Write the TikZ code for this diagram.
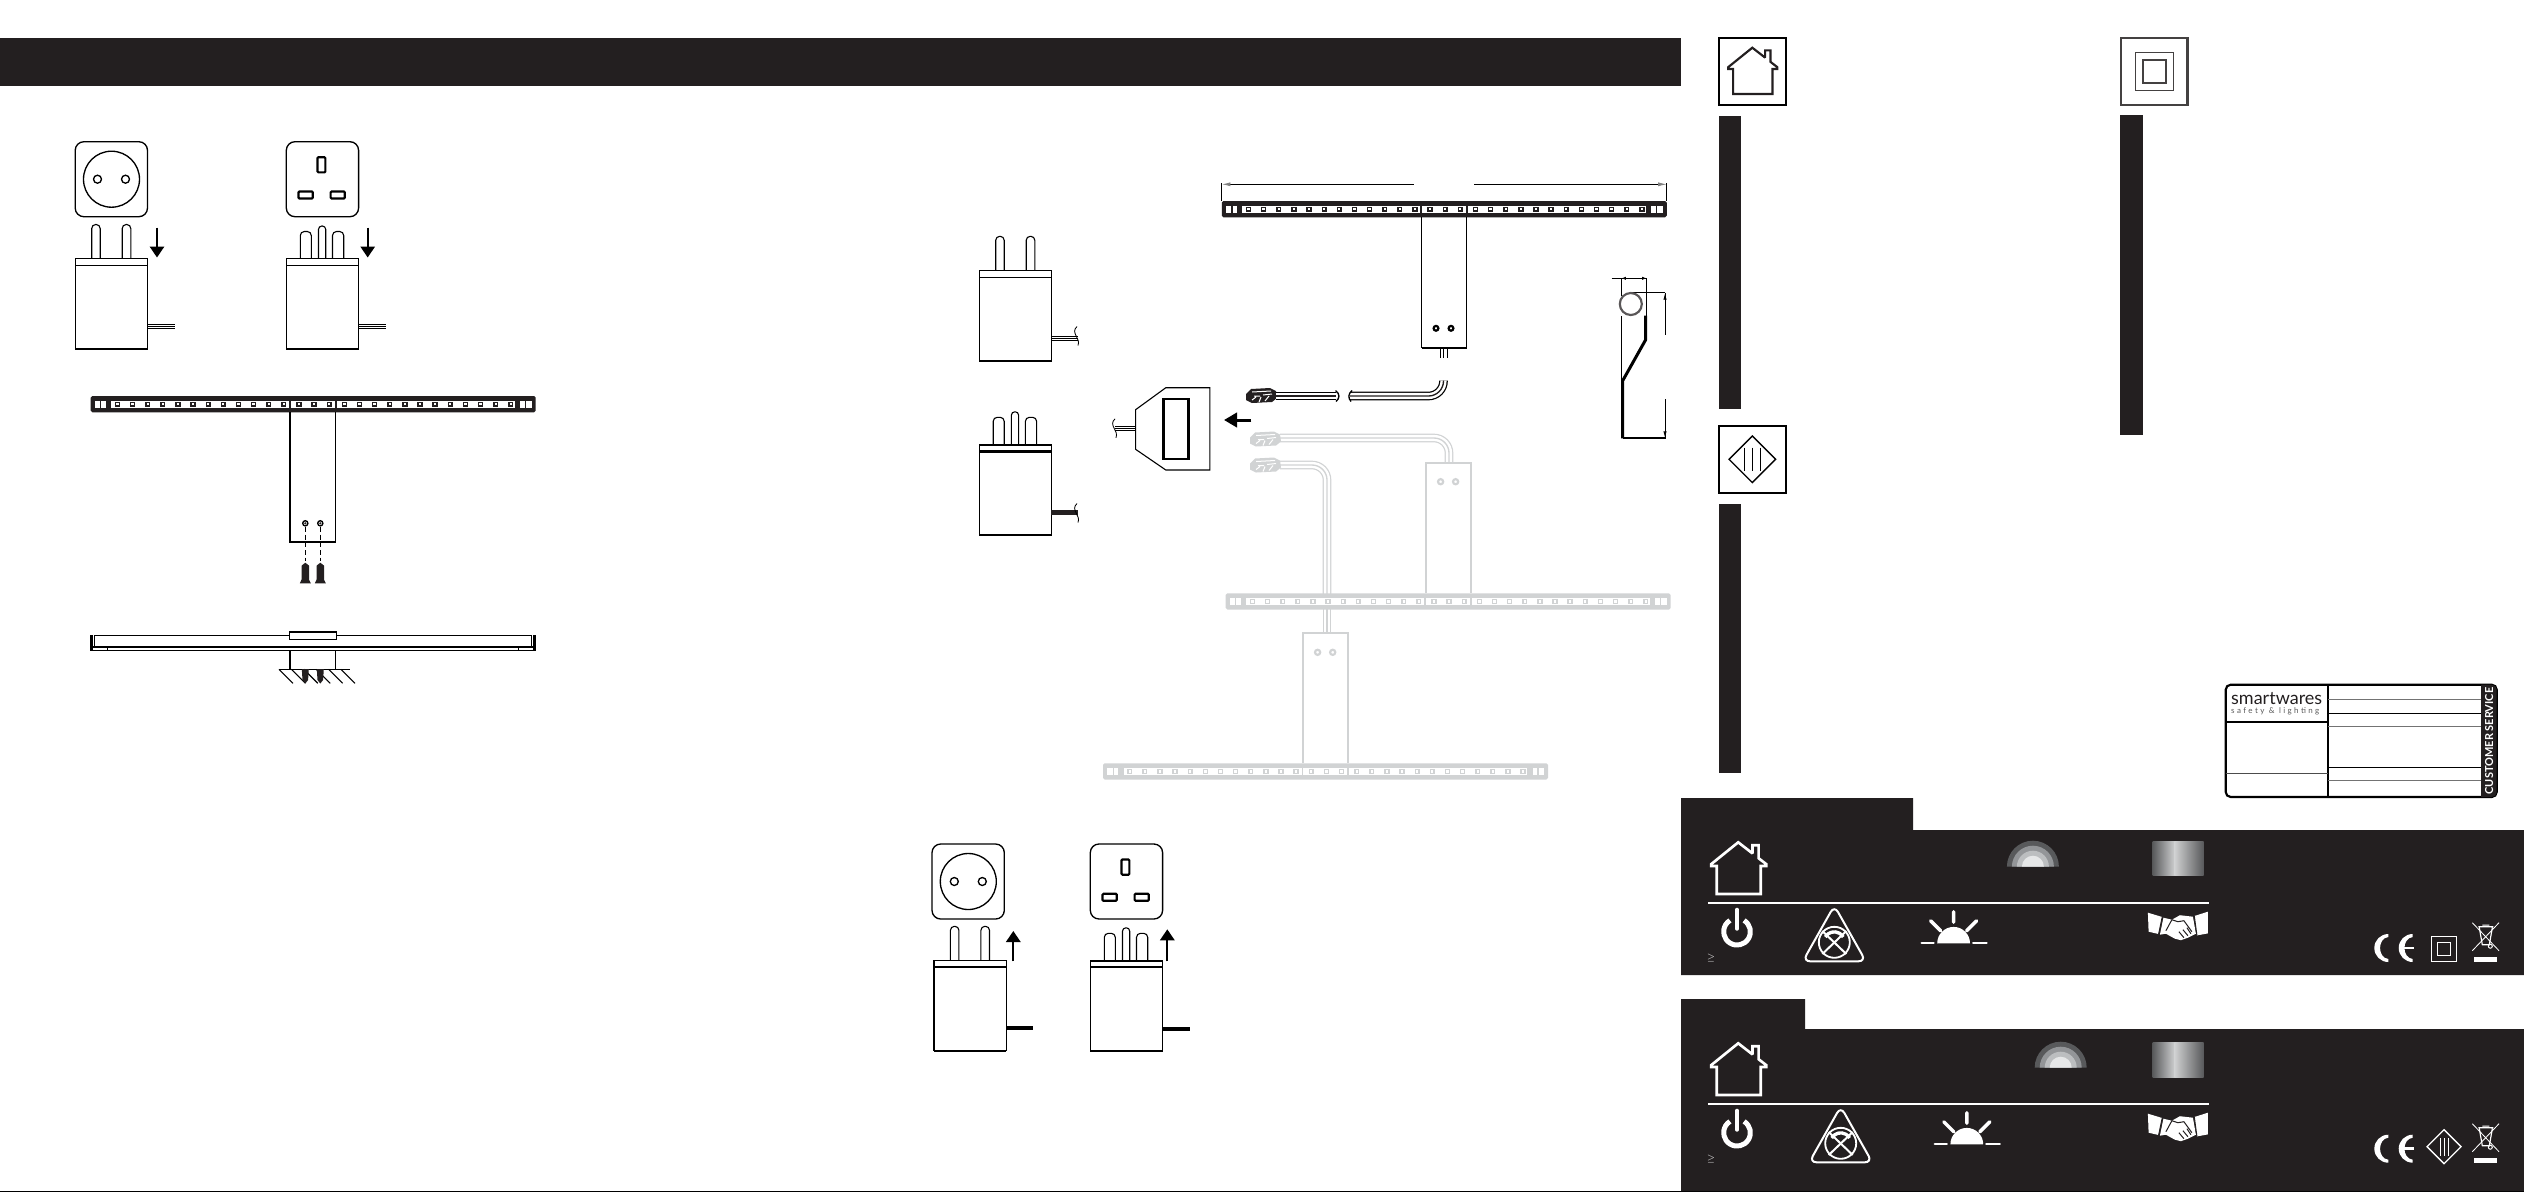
\documentclass[tikz,border=0pt]{standalone}
\usepackage{fontspec}
\setmainfont{Lato}
\newfontfamily\tagfont[LetterSpace=30]{Lato}
\usetikzlibrary{arrows.meta}
\definecolor{ink}{HTML}{231F20}
\definecolor{pale}{HTML}{D1D3D4}
\definecolor{HTML58}{HTML}{58595B}
\definecolor{HTML93}{HTML}{939598}
\definecolor{HTMLBC}{HTML}{BCBEC0}
\definecolor{HTMLE6}{HTML}{E6E7E8}

\tikzset{
pics/lampbar/.style={code={
    \fill[#1,rounded corners=.5pt] (0,0) rectangle (445,16.3);
    \fill[white] (3.8,4.5) rectangle (9.5,12);
    \fill[white] (10.7,4.5) rectangle (15.4,12);
    \fill[white] (20.6,4.5) rectangle (424.3,12);
    \fill[white] (429.6,4.5) rectangle (434.3,12);
    \fill[white] (435.5,4.5) rectangle (441.2,12);
    \fill[#1] (198.6,3) rectangle (200.4,13);
    \fill[#1] (244.3,3) rectangle (246.1,13);
    \foreach \i in {0,...,26}
        \draw[#1,line width=.45pt,fill=white] ({24.8+15.13*\i},6.4) rectangle +(3.8,3.8);
}},
pics/rjplug/.style={code={
    \fill[#1] (0,6) -- (5,1) -- (24,0) -- (30,3) -- (31,10) -- (26,14) -- (6,15) -- (0,12) -- cycle;
    \draw[white,line width=.3pt] (6,4) -- (25,3) (8,8) -- (14,8) (17,7) -- (26,6) (6,12) -- (10,9) (19,13) -- (23,8) (13,14) -- (15,9);
}},
pics/socketround/.style={code={
    \draw[fine,rounded corners=2.6pt] (0,0) rectangle (72.3,75);
    \draw[fine] (36.3,37.5) circle (28);
    \draw[fine] (22.3,37.5) circle (4);
    \draw[fine] (50.3,37.5) circle (4);
}},
pics/socketuk/.style={code={
    \draw[fine,rounded corners=2.6pt] (0,0) rectangle (72.3,75);
    \draw[mid,rounded corners=.3pt] (31.2,15.5) rectangle (39.1,30.7);
    \draw[mid,rounded corners=.3pt] (12.2,49.8) rectangle (26.5,56.8);
    \draw[mid,rounded corners=.3pt] (44.3,49.8) rectangle (58.5,56.8);
}},
pics/pinblock/.style={code={
    \draw[fine] (0,0) rectangle (72.3,90.5);
    \draw[mid] (0,90.5) -- (72.3,90.5);
    \draw[fine] (0,7) -- (72.3,7);
}},
pics/plugtwo/.style={code={
    \pic {pinblock};
    \draw[lean,rounded corners=1.2pt] (16.5,0) -- (16.5,-34) -- (25,-34) -- (25,0);
    \draw[lean,rounded corners=1.2pt] (47,0) -- (47,-34) -- (55.6,-34) -- (55.6,0);
}},
pics/plugthree/.style={code={
    \pic {pinblock};
    \draw[lean,rounded corners=1.2pt] (14,0) -- (14,-27) -- (25,-27) -- (25,0);
    \draw[lean,rounded corners=1pt] (32.2,0) -- (32.2,-32.5) -- (39.4,-32.5) -- (39.4,0);
    \draw[lean,rounded corners=1.2pt] (46.2,0) -- (46.2,-27) -- (57.4,-27) -- (57.4,0);
}},
pics/screwpin/.style={code={
    \fill[ink] (-3.8,3) -- (0,0) -- (3.8,3) -- (3.8,17) -- (5.5,20.6) -- (-5.5,20.6) -- (-3.8,17) -- cycle;
}},
pics/cutmark/.style={code={
    \draw[hair] (2,-9.5) .. controls (-5,-3) and (6,2) .. (3,9.5);
}},
pics/housesign/.style={code={
    \draw[#1,miter limit=2] (0,0) -- (14.3,11.1) -- (14.3,3) -- (20.4,3) -- (20.4,15.9) -- (28,21.8) -- (28,23.7)
        -- (22.5,23.7) -- (22.5,51.7) -- (-21.4,51.7) -- (-21.4,23.7) -- (-27,23.7) -- (-27,21.8) -- cycle;
}},
pics/powersign/.style={code={
    \draw[white,line width=1.5pt] (0,0) ++(58:4pt) arc[start angle=58,end angle=-238,radius=4pt];
    \draw[white,line width=1.2pt,line cap=round] (0,-22) -- (0,-3);
}},
pics/warnsign/.style={code={
    \draw[white,line width=.6pt,rounded corners=2.2pt] (0,-4.5) -- (31.5,51.3) -- (-31.5,51.3) -- cycle;
    \draw[white,line width=.55pt] (0,32.3) circle (15.5);
    \draw[white,line width=.6pt] (-12,21) -- (12,44);
    \draw[white,line width=.6pt] (12,21) -- (-12,44);
    \draw[white,line width=1pt] (-9,27) arc[start angle=150,end angle=30,radius=3.1pt];
}},
pics/sunsign/.style={code={
    \fill[white] (-16.4,0) arc[start angle=180,end angle=0,radius=4.92pt] -- cycle;
    \draw[white,line width=.7pt,line cap=round] (-32,-.3) -- (-20,-.3) (19.5,-.3) -- (33,-.3);
    \draw[white,line width=1.05pt,line cap=round] (0,-31.5) -- (0,-21) (-23,-22.5) -- (-13,-12.5) (23,-22.5) -- (13,-12.5);
}},
pics/handsign/.style={code={
    \fill[white] (0,1) -- (14.3,5.3) -- (10.7,22.3) -- (.7,20) -- cycle;
    \fill[white] (46.4,4.3) -- (60,0) -- (60,21.7) -- (49,23.7) -- cycle;
    \fill[white] (15.5,6) -- (24,8) -- (32,3.5) -- (45,5) -- (48,22) -- (40,26) -- (33,28.5) -- (27,27) -- (18,22) -- (12,23) -- cycle;
    \draw[ink,line width=.3pt] (24,8) -- (18,19) (24,8) -- (30,10) -- (36,9) -- (44,20) (36,26) -- (31,20)
        (40,24) -- (35,18) (43,22) -- (39,16);
    \draw[ink,line width=.3pt] (14.3,5.3) -- (10.7,22.3) (46.4,4.3) -- (49,23.7);
}},
pics/cesign/.style={code={
    \fill[white] (0,-14) arc[start angle=90,end angle=270,radius=4.2pt] -- (0,11) .. controls (-11,10) and (-11,-10) .. (0,-11) -- cycle;
    \fill[white] (24.4,-14) arc[start angle=90,end angle=270,radius=4.2pt] -- (24.4,11) .. controls (13.4,10) and (13.4,-10) .. (24.4,-11) -- cycle;
    \draw[white,line width=.75pt] (13,0) -- (25.5,0);
}},
pics/binsign/.style={code={
    \draw[white,line width=.25pt] (0,0) -- (26.7,28) (26.7,0) -- (0,28);
    \draw[white,line width=.35pt] (7,5) -- (10,22) -- (17,22) -- (20,5) (6,4) -- (21,4) (10,2.4) -- (17,2.4);
    \draw[white,line width=.3pt] (18,23.5) circle (2);
    \fill[white] (1.7,34.3) rectangle (24.7,39.3);
}},
pics/rainbowsign/.style={code={
    \fill[HTML58] (-26,0) arc[start angle=180,end angle=0,radius=7.8pt] -- cycle;
    \fill[HTML93] (-21,0) arc[start angle=180,end angle=0,radius=6.3pt] -- cycle;
    \fill[HTMLBC] (-16,0) arc[start angle=180,end angle=0,radius=4.8pt] -- cycle;
    \fill[HTMLE6] (-11,0) arc[start angle=180,end angle=0,radius=3.3pt] -- cycle;
}}
}

\begin{document}
\begin{tikzpicture}
[x=.3pt,y=-.3pt]
\tikzstyle{hair}=[line width=.25pt]
\tikzstyle{lean}=[line width=.33pt]
\tikzstyle{fine}=[line width=.4pt]
\tikzstyle{mid}=[line width=.65pt]
\tikzstyle{heavy}=[line width=.9pt]
\tikzstyle{wire}=[line width=2.6pt,postaction={draw=white,line width=1.85pt},postaction={draw=#1,line width=.4pt}]
\tikzstyle{blockdown}=[line width=.6pt,-{Triangle[width=4.3pt,length=3.3pt]}]
\tikzstyle{dimline}=[hair,{Latex[length=1.4pt,width=1pt]}-{Latex[length=1.4pt,width=1pt]}]
\tikzstyle{tinysign}=[inner sep=0,white,scale=.3]
\useasboundingbox (0,0) rectangle (2524,1192);

\fill[ink] (0,38) rectangle (1681,86);
\fill[black] (0,1190.8) rectangle (2524,1192);

% first column
\pic at (75.2,141.7) {socketround};
\pic at (286.3,141.7) {socketuk};
\pic at (75.2,258.5) {plugtwo};
\pic at (286.3,258.5) {plugthree};
\draw[blockdown] (157,227.5) -- (157,257.5);
\draw[blockdown] (367.7,227.5) -- (367.7,257.5);
\foreach \h in {324,326.3,328.7} {
    \draw[hair] (147.5,\h) -- (175,\h);
    \draw[hair] (358.6,\h) -- (386,\h);
}
\pic at (90.7,396) {lampbar=ink};
\draw[lean] (290,412) -- (290,542.3) -- (335.7,542.3) -- (335.7,412);
\draw[mid] (290,542.3) -- (335.7,542.3);
\foreach \s in {305.3,320.3} {
    \draw[fine] (\s,523.3) circle (2.6);
    \fill[ink] (\s,523.3) circle (1.2);
    \draw[lean,dash pattern=on 1.5pt off .8pt] (\s,527) -- (\s,561);
    \pic at (\s,562.7) {screwpin};
}
% bar seen from the side
\draw[lean] (94,635.3) -- (289.7,635.3) (336.7,635.3) -- (532,635.3);
\draw[mid] (92,646.7) -- (534,646.7);
\draw[lean] (92,650.3) -- (534,650.3);
\draw[heavy] (91.7,635) -- (91.7,650.7) (534.7,635) -- (534.7,650.7);
\draw[hair] (94.7,635) -- (94.7,647) (531.7,635) -- (531.7,647) (107,647) -- (107,650) (518.7,647) -- (518.7,650);
\draw[lean] (289.7,632) rectangle (336.7,639.3);
\draw[mid] (289.7,631.6) -- (336.7,631.6);
\draw[lean] (290,650) -- (290,669.3) (335.7,650) -- (335.7,669.3) (279,669.3) -- (349.7,669.3);
\foreach \h in {279,291.4,303.8,316.2,328.6,341}
    \draw[lean] (\h,669.3) -- +(14,14);
\foreach \s in {305.3,320.3}
    \fill[ink] (\s-3.5,669) -- (\s+3.5,669) -- (\s+2.8,680) -- (\s,683.5) -- (\s-2.8,680) -- cycle;

% second column
\pic at (979.2,270.3) {plugtwo};
\pic at (979.2,444.3) {plugthree};
\draw[mid] (979.2,444.6) -- (1051,444.6) (979.2,451.5) -- (1051,451.5);
\foreach \h in {336.7,338.5,340.7}
    \draw[hair] (1051,\h) -- (1078,\h);
\pic at (1075,336) {cutmark};
\fill[ink] (1051,510.3) rectangle (1078,515.3);
\pic at (1075,513) {cutmark};
\draw[lean] (1165.8,387.7) -- (1209.8,387.7) -- (1209.8,470) -- (1165.8,470) -- (1135.6,449.3) -- (1135.6,409.7) -- cycle;
\draw[line width=.8pt] (1163.5,399) rectangle (1188.5,459);
\foreach \h in {426.3,428.3,430.3}
    \draw[hair] (1115,\h) -- (1135.6,\h);
\pic at (1113,428.3) {cutmark};
\draw[line width=.9pt,-{Triangle[width=4.3pt,length=3.9pt]}] (1251.4,420) -- (1224,420);
\pic at (1221.8,201) {lampbar=ink};
\draw[lean] (1421.8,217) -- (1421.8,347.7) -- (1466.8,347.7) -- (1466.8,217);
\draw[mid] (1421.8,347.7) -- (1466.8,347.7);
\draw[mid] (1436,328.3) circle (2.4);
\draw[mid] (1451,328.3) circle (2.4);
\foreach \h in {1440,1443.5,1447}
    \draw[hair] (\h,348) -- (\h,357.7);
\draw[hair] (1221.8,183) -- (1221.8,201) (1666.8,183) -- (1666.8,201);
\draw[hair,{Latex[length=2.6pt,width=1.2pt,gray]}-] (1221.8,184.3) -- (1414,184.3);
\draw[hair,-{Latex[length=2.6pt,width=1.2pt,gray]}] (1474,184.3) -- (1666.8,184.3);
% plug on the cable
\pic at (1246,388) {rjplug=ink};
\draw[wire=ink] (1276,396) -- (1336.4,396);
\draw[wire=ink,rounded corners=4.5pt] (1350,396) -| (1443.5,380.7);
\draw[fine] (1335.5,390.5) .. controls (1340,394) and (1340,398) .. (1336,401.5);
\draw[fine] (1352,390.5) .. controls (1348,394) and (1348,398) .. (1351,401.5);
% side profile
\draw[hair] (1611.7,278.3) -- (1646.7,278.3);
\draw[hair] (1621.3,278.3) -- (1621.3,296) (1646.7,278.3) -- (1646.7,293);
\draw[dimline] (1621.3,278.3) -- (1646.7,278.3);
\draw[hair] (1631,292.7) -- (1665,292.7);
\draw[lean] (1646.7,292.7) -- (1646.7,316);
\draw[draw=ink!75,line width=.65pt] (1630.8,304) circle (11);
\draw[lean] (1621.3,316) -- (1621.3,380);
\draw[heavy] (1645.5,315.5) -- (1645.5,340) -- (1622.5,381) -- (1622.5,438.3);
\draw[mid] (1622.5,438.3) -- (1665.8,438.3);
\draw[hair] (1665,292.7) -- (1665,438.3);
\fill[white] (1663,335) rectangle (1667,399);
\draw[hair,{Latex[length=2pt,width=1pt]}-] (1665,293) -- (1665,302);
\draw[hair,-{Latex[length=2pt,width=1pt]}] (1665,428) -- (1665,438);

% grey copies, behind
\draw[wire=pale,pale,rounded corners=4.5pt] (1280,438) -| (1449,463.3);
\draw[wire=pale,pale,rounded corners=4.5pt] (1280,465) -| (1327,594);
\draw[wire=pale,pale] (1327,608) -- (1327,633.3);
\pic at (1250,431.5) {rjplug=pale};
\pic at (1250,457.5) {rjplug=pale};
\draw[pale,mid] (1425.6,593.3) -- (1425.6,463.3) -- (1470.7,463.3) -- (1470.7,593.3);
\draw[pale,mid] (1440.6,481.7) circle (2.6);
\draw[pale,mid] (1455.6,481.7) circle (2.6);
\pic at (1225.7,593.3) {lampbar=pale};
\draw[pale,mid] (1302.6,763.3) -- (1302.6,633.3) -- (1347.7,633.3) -- (1347.7,763.3);
\draw[pale,mid] (1317.6,652.3) circle (2.6);
\draw[pale,mid] (1332.7,652.3) circle (2.6);
\pic at (1103,763.3) {lampbar=pale};

% last sockets
\pic at (932,844) {socketround};
\pic at (1090.3,844) {socketuk};
\pic at (933.9,960.3) {plugtwo};
\pic at (1090.3,960.3) {plugthree};
\draw[mid] (933.9,966.7) -- (1006.2,966.7) (1090.3,967) -- (1162.6,967) (1090.3,960.6) -- (1162.6,960.6);
\draw[blockdown,line width=.65pt] (1013.3,961.3) -- (1013.3,931);
\draw[blockdown,line width=.65pt] (1167.3,961.3) -- (1167.3,929.3);
\draw[line width=1.2pt] (1006.3,1028.3) -- (1033.3,1028.3);
\draw[line width=1.2pt] (1162.6,1028.7) -- (1190,1028.7);

% symbols boxes
\draw[mid] (1719.3,38.3) rectangle (1786,105);
\pic[scale=.895] at (1752.3,47.7) {housesign={mid,ink}};
\fill[ink] (1719,116) rectangle (1741,409);
\draw[mid] (1719.3,426.3) rectangle (1786,492.7);
\draw[fine] (1752.3,436) -- (1775.6,459.3) -- (1752.3,482.6) -- (1729,459.3) -- cycle;
\foreach \h in {1744,1752.3,1760.6}
    \draw[hair] (\h,447.5) -- (\h,471);
\fill[ink] (1719,504) rectangle (1741,773);
\draw[draw=ink!85,mid] (2120.7,38.3) rectangle (2187.4,105);
\draw[draw=ink!85,fine] (2135.3,52.7) rectangle (2173.3,90.7);
\draw[draw=ink!85,mid] (2143.3,60) rectangle (2165.7,83);
\fill[ink] (2120,115) rectangle (2143,435);

% service card
\draw[mid,rounded corners=1.5pt] (2225.7,684.7) rectangle (2496.7,797);
\fill[ink] (2481,684.7) [rounded corners=1.5pt] -- (2496.7,684.7) -- (2496.7,797) [sharp corners] -- (2481,797) -- cycle;
\draw[mid] (2328,684.7) -- (2328,797) (2225.7,721.7) -- (2328,721.7);
\draw[fine,black!70] (2225.7,773.3) -- (2328,773.3);
\draw[fine,black!55] (2328,699.7) -- (2481,699.7) (2328,726.7) -- (2481,726.7) (2328,780.7) -- (2481,780.7);
\draw[fine] (2328,713.3) -- (2481,713.3) (2328,767.3) -- (2481,767.3);
\node[inner sep=0,anchor=base west,ink] (logo) at (2230.5,704.3) {\fontsize{5.4}{7}\selectfont smartwares};
\node[inner sep=0,anchor=base west,black!65] (logotag) at (2230.5,713) {\tagfont\fontsize{2.4}{3}\selectfont safety \& lighting};
\node[inner sep=0,white,rotate=90] (service) at (2489,741) {\fontsize{3.3}{4}\selectfont\bfseries CUSTOMER SERVICE};

% black panels
\fill[ink] (1681,798) -- (1913,798) -- (1913,830) -- (2524,830) -- (2524,975) -- (1681,975) -- cycle;
\fill[ink] (1681,999) -- (1805,999) -- (1805,1029) -- (2524,1029) -- (2524,1191) -- (1681,1191) -- cycle;
\pic at (1738.2,842.3) {housesign={white,line width=.8pt}};
\pic at (1738.2,1043.3) {housesign={white,line width=.8pt}};
\pic at (2032.9,866.7) {rainbowsign};
\pic at (2060.7,1067.7) {rainbowsign};
\shade[left color=HTML58,right color=HTMLE6!90!black] (2152.5,841) rectangle (2175,875);
\shade[left color=HTMLE6!90!black,right color=HTML58] (2174.7,841) rectangle (2203.6,875);
\shade[left color=HTML58,right color=HTMLE6!90!black] (2152.5,1042) rectangle (2175,1077);
\shade[left color=HTMLE6!90!black,right color=HTML58] (2174.7,1042) rectangle (2203.6,1077);
\draw[white,mid] (1707.9,903.3) -- (2208.9,903.3);
\draw[white,mid] (1707.9,1104) -- (2208.9,1104);
\pic at (1737,931.7) {powersign};
\pic at (1737,1132.7) {powersign};
\node[tinysign] (ge) at (1711,958.3) {$\geq$};
\node[tinysign] (get) at (1711,1158.6) {$\geq$};
\pic at (1834.3,910) {warnsign};
\pic at (1840.7,1111) {warnsign};
\pic at (1953.6,943.3) {sunsign};
\pic at (1966.8,1144.3) {sunsign};
\pic at (2147.9,911.7) {handsign};
\pic at (2147.9,1112.7) {handsign};
\pic at (2388.3,948) {cesign};
\pic at (2388.3,1148.7) {cesign};
\pic at (2472.3,922.7) {binsign};
\pic at (2472.3,1123.7) {binsign};
\draw[white,line width=.3pt] (2431.3,936.3) rectangle (2456.7,961.7);
\draw[white,line width=.5pt] (2437.5,942.5) rectangle (2450.5,955.5);
\draw[white,line width=.4pt] (2444,1129.7) -- (2461,1146.7) -- (2444,1163.7) -- (2427,1146.7) -- cycle;
\foreach \h in {2440,2444,2448}
    \draw[white,line width=.3pt] (\h,1138) -- (\h,1155.5);
\end{tikzpicture}
\end{document}
